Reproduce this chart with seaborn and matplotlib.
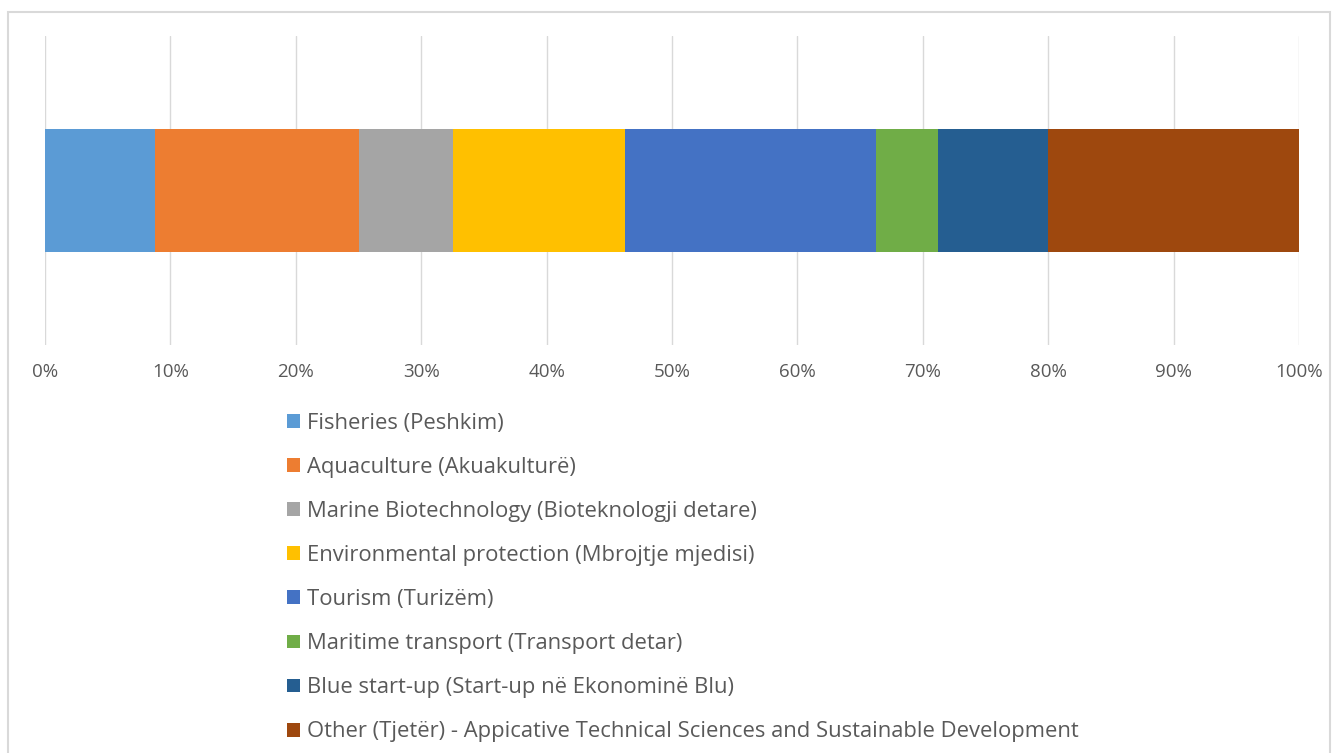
import matplotlib
matplotlib.use("Agg")
import matplotlib.pyplot as plt
from matplotlib.patches import Patch, Rectangle
from matplotlib.ticker import PercentFormatter
import numpy as np
import pandas as pd
import seaborn as sns

# survey counts per sector (80 responses)
sectors = [
    "Fisheries (Peshkim)",
    "Aquaculture (Akuakulturë)",
    "Marine Biotechnology (Bioteknologji detare)",
    "Environmental protection (Mbrojtje mjedisi)",
    "Tourism (Turizëm)",
    "Maritime transport (Transport detar)",
    "Blue start-up (Start-up në Ekonominë Blu)",
    "Other (Tjetër) - Appicative Technical Sciences and Sustainable Development",
]
counts = [7, 13, 6, 11, 16, 4, 7, 16]
colors = ["#5B9BD5", "#ED7D31", "#A5A5A5", "#FFC000",
          "#4472C4", "#70AD47", "#255E91", "#9E480E"]

sns.set_theme(style="white")
plt.rcParams["font.family"] = ["Open Sans", "DejaVu Sans"]

df = pd.DataFrame({"sector": sectors, "count": counts, "color": colors})
df["share"] = df["count"] / df["count"].sum() * 100
df["cum"] = df["share"].cumsum()
df["row"] = ""

fig = plt.figure(figsize=(13.37, 7.53), dpi=100)
ax = fig.add_axes([45 / 1337, 408 / 753, 1254 / 1337, 309 / 753])

# stacked bar: draw cumulative ends from the widest down
for _, r in df.iloc[::-1].iterrows():
    sns.barplot(data=pd.DataFrame([r]), x="cum", y="row", orient="h",
                color=r["color"], saturation=1, width=0.4, ax=ax,
                edgecolor="none", linewidth=0)

ax.set_xlim(0, 100)
ax.set_ylim(0.5, -0.5)
ax.set_xticks(np.arange(0, 101, 10))
ax.xaxis.set_major_formatter(PercentFormatter(decimals=0))
ax.set_yticks([])
ax.set_xlabel("")
ax.set_ylabel("")
ax.grid(axis="x", color="#D9D9D9", linewidth=1)
ax.set_axisbelow(True)
for s in ax.spines.values():
    s.set_visible(False)
ax.tick_params(axis="x", length=0, pad=13, labelsize=13.5, labelcolor="#595959")

handles = [Patch(facecolor=c, edgecolor="none") for c in colors]
leg = fig.legend(handles, sectors, loc="upper left",
                 bbox_to_anchor=(287 / 1337, 1 - 413 / 753),
                 frameon=False, fontsize=15.8, labelcolor="#595959",
                 handlelength=0.6, handleheight=0.6, handletextpad=0.3,
                 labelspacing=1.05, borderaxespad=0, borderpad=0)

fig.patches.append(Rectangle((8 / 1337, -0.05), 1322 / 1337, 1.05 - 12 / 753,
                             transform=fig.transFigure, fill=False,
                             edgecolor="#D9D9D9", linewidth=1.5))

fig.savefig("out.png", dpi=100, facecolor="white")
